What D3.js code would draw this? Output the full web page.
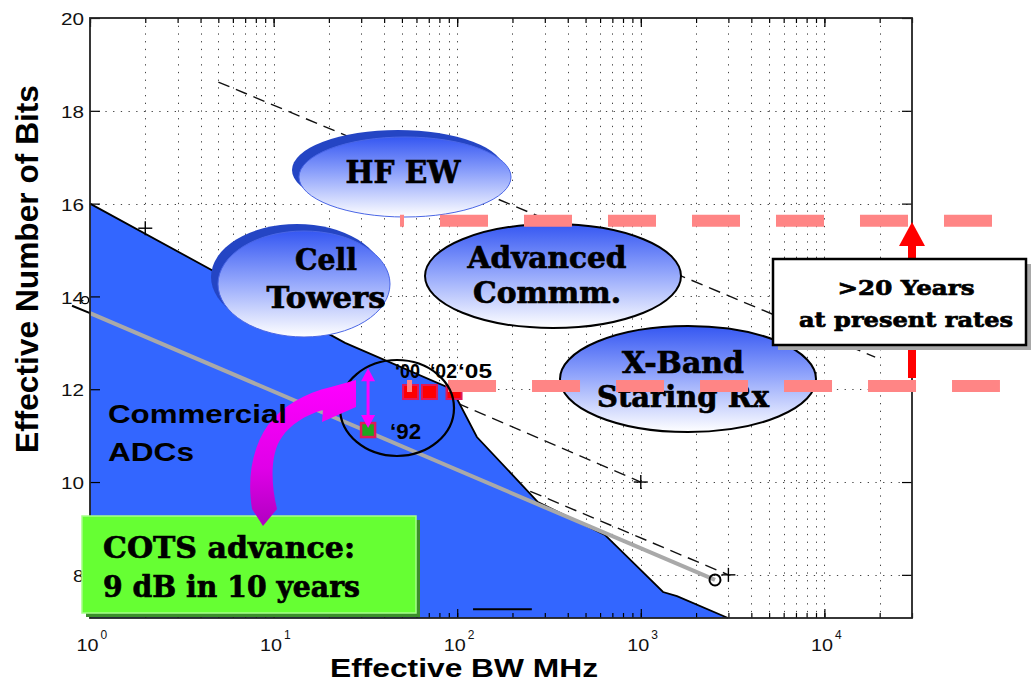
<!DOCTYPE html>
<html><head><meta charset="utf-8">
<script src="https://cdn.jsdelivr.net/npm/d3@7"></script>
<style>body{margin:0;background:#fff;} svg{display:block}</style>
</head><body>
<svg id="c" width="1031" height="682"></svg>
<script>
// ---------------- data ----------------
const xTickValues = [1, 10, 100, 1000, 10000];
const xTickExponents = ["0", "1", "2", "3", "4"];
const yTickValues = [8, 10, 12, 14, 16, 18, 20];
const yGridValues = [8, 10, 12, 14, 16, 18];

// commercial ADC frontier (filled region)
const frontierBW   = [1, 24.5, 93.7, 128, 275, 638, 1322, 1574, 2985];
const frontierENOB = [16, 13.0, 12.0, 10.97, 9.57, 8.86, 7.63, 7.54, 7.07];

// trend line (gray) and its end marker
const trendBW   = [1, 2536];
const trendENOB = [13.64, 7.89];
const stubBW    = [0.798, 1];
const stubENOB  = [13.80, 13.64];
const stubMarkBW = [0.94];
const stubMarkENOB = [13.92];

// dashed guide lines
const guideUpperBW = [5, 18900],  guideUpperENOB = [18.62, 12.69];
const guideMidBW   = [100, 1000], guideMidENOB   = [11.7, 10];
const guideLowBW   = [250, 3000], guideLowENOB   = [9.8, 8];
const plusBW   = [2, 1000, 3000];
const plusENOB = [15.47, 10, 8];

// year points
const yearBW    = [55.7, 70.6, 96.1];
const yearENOB  = [11.94, 11.94, 11.94];
const yearLabels = ["\u201800", "\u201802", "\u201805"];
const p92BW = [32.7], p92ENOB = [11.12], p92Label = ["\u201892"];

// target lines (red dashed)
const targetENOB = [15.63, 12.07];
const targetStartBW = [48.8, 53.3];
const targetEndBW = [81800, 90400];

// small legend-like segment near bottom
const segBW = [122, 255], segENOB = [7.26, 7.26];

// ---------------- setup ----------------
const svg = d3.select("#c");
const x = d3.scaleLog().domain([1, 30000]).range([90, 912]);
const y = d3.scaleLinear().domain([7.07, 20]).range([618, 18]);
const X0 = x.range()[0], X1 = x.range()[1], Y0 = y.range()[0], Y1 = y.range()[1];
const sans = "Liberation Sans, Arial, sans-serif";
const serif = "DejaVu Serif, Liberation Serif, serif";

const defs = svg.append("defs");
function grad(id, stops) {
  const g = defs.append("linearGradient").attr("id", id).attr("x1", 0).attr("y1", 0).attr("x2", 0).attr("y2", 1);
  stops.forEach(s => g.append("stop").attr("offset", s[0]).attr("stop-color", s[1]));
}
grad("bubble", [[0, "#3557f2"], [0.45, "#8ea2fb"], [1, "#ffffff"]]);
grad("magenta", [[0, "#ff00ff"], [0.6, "#e000e8"], [1, "#b000c0"]]);

const minorX = [];
for (let k = 0; k <= 4; k++) for (let m = 1; m <= 9; m++) { const v = m * Math.pow(10, k); if (v <= 30000) minorX.push(v); }

// ---------------- grid ----------------
const grid = svg.append("g").attr("stroke", "#444").attr("stroke-width", 1).attr("stroke-dasharray", "1.3 6.4");
grid.selectAll("line.v").data(minorX.filter(v => v > 1 && v < 30000)).enter().append("line")
  .attr("x1", d => Math.round(x(d)) + 0.5).attr("x2", d => Math.round(x(d)) + 0.5).attr("y1", Y1).attr("y2", Y0);
grid.selectAll("line.h").data(yGridValues).enter().append("line")
  .attr("y1", d => Math.round(y(d)) + 0.5).attr("y2", d => Math.round(y(d)) + 0.5).attr("x1", X0).attr("x2", X1);

// ---------------- dashed guides ----------------
const line2 = (bw, en) => d3.line().x(d => x(d[0])).y(d => y(d[1]))(bw.map((b, i) => [b, en[i]]));
const guides = svg.append("g").attr("fill", "none").attr("stroke", "#111").attr("stroke-width", 1.4).attr("stroke-dasharray", "12 7");
[[guideUpperBW, guideUpperENOB], [guideMidBW, guideMidENOB], [guideLowBW, guideLowENOB]].forEach(g =>
  guides.append("path").attr("d", line2(g[0], g[1])));

// ---------------- frontier polygon ----------------
const polyPts = frontierBW.map((b, i) => [b, frontierENOB[i]]);
polyPts.push([frontierBW[0], frontierENOB[frontierENOB.length - 1]]);
svg.append("path").attr("d", d3.line().x(d => x(d[0])).y(d => y(d[1]))(polyPts) + "Z")
  .attr("fill", "#3366ff").attr("stroke", "none");
svg.append("path").attr("d", line2(frontierBW, frontierENOB)).attr("fill", "none").attr("stroke", "#000").attr("stroke-width", 1.8);

// ---------------- trend line ----------------
svg.append("path").attr("d", line2(trendBW, trendENOB)).attr("stroke", "#a9a9a9").attr("stroke-width", 4).attr("fill", "none");
svg.append("path").attr("d", line2(stubBW, stubENOB)).attr("stroke", "#000").attr("stroke-width", 2).attr("fill", "none");
svg.selectAll("circle.tm").data(trendBW.slice(1)).enter().append("circle")
  .attr("cx", d => x(d)).attr("cy", (d, i) => y(trendENOB[i + 1])).attr("r", 5.5)
  .attr("fill", "none").attr("stroke", "#000").attr("stroke-width", 2);
svg.selectAll("circle.sm").data(stubMarkBW).enter().append("circle")
  .attr("cx", d => x(d)).attr("cy", (d, i) => y(stubMarkENOB[i])).attr("r", 3.5)
  .attr("fill", "none").attr("stroke", "#000").attr("stroke-width", 1.2);

// plus markers
const plus = svg.append("g").attr("stroke", "#000").attr("stroke-width", 1.4);
plusBW.forEach((b, i) => {
  const cx = x(b), cy = y(plusENOB[i]);
  plus.append("line").attr("x1", cx - 7).attr("x2", cx + 7).attr("y1", cy).attr("y2", cy);
  plus.append("line").attr("x1", cx).attr("x2", cx).attr("y1", cy - 7).attr("y2", cy + 7);
});

// small segment
svg.append("path").attr("d", line2(segBW, segENOB)).attr("stroke", "#000").attr("stroke-width", 2);

// ---------------- axes ----------------
const axG = svg.append("g").attr("class", "axes");
function styleAxis(g) { g.select(".domain").remove(); g.selectAll("line").attr("stroke", "#000").attr("stroke-width", 1.2); }
axG.append("g").attr("transform", `translate(0,${Y0})`).call(d3.axisBottom(x).tickValues(minorX).tickSize(-5).tickFormat("")).call(styleAxis);
axG.append("g").attr("transform", `translate(0,${Y1})`).call(d3.axisTop(x).tickValues(minorX).tickSize(-5).tickFormat("")).call(styleAxis);
axG.append("g").attr("transform", `translate(0,${Y1})`).call(d3.axisTop(x).tickValues(xTickValues).tickSize(-9).tickFormat("")).call(styleAxis);
const xb = axG.append("g").attr("transform", `translate(0,${Y0})`)
  .call(d3.axisBottom(x).tickValues(xTickValues).tickSize(-9).tickFormat("")).call(styleAxis);
// tick labels "10" with superscript exponent, as two adjacent texts
xb.selectAll("g.tick").each(function (d, i) {
  const g = d3.select(this);
  g.append("text").attr("x", 8).attr("y", 33).attr("text-anchor", "end")
    .attr("font-family", sans).attr("font-size", 16).attr("fill", "#111")
    .attr("textLength", 22).attr("lengthAdjust", "spacingAndGlyphs").text("10");
  g.append("text").attr("x", 10).attr("y", 21).attr("text-anchor", "start")
    .attr("font-family", sans).attr("font-size", 12).attr("fill", "#111").text(xTickExponents[i]);
});
const yl = axG.append("g").attr("transform", `translate(${X0},0)`)
  .call(d3.axisLeft(y).tickValues(yTickValues).tickSize(-10).tickPadding(6).tickFormat(d3.format("d"))).call(styleAxis);
yl.selectAll("text").attr("font-family", sans).attr("font-size", 16).attr("fill", "#111")
  .attr("textLength", d => d >= 10 ? 23 : 11).attr("lengthAdjust", "spacingAndGlyphs").attr("dy", "0.42em");
axG.append("g").attr("transform", `translate(${X1},0)`)
  .call(d3.axisRight(y).tickValues(yTickValues).tickSize(-10).tickFormat("")).call(styleAxis);
axG.append("rect").attr("x", X0).attr("y", Y1).attr("width", X1 - X0).attr("height", Y0 - Y1)
  .attr("fill", "none").attr("stroke", "#222").attr("stroke-width", 1.8);

// axis titles
svg.append("text").attr("transform", `translate(38,${(85 + 453) / 2}) rotate(-90)`).attr("text-anchor", "middle")
  .attr("font-family", sans).attr("font-weight", "bold").attr("font-size", 31)
  .attr("textLength", 368).attr("lengthAdjust", "spacingAndGlyphs").text("Effective Number of Bits");
svg.append("text").attr("x", 464).attr("y", 677).attr("text-anchor", "middle")
  .attr("font-family", sans).attr("font-weight", "bold").attr("font-size", 26)
  .attr("textLength", 268).attr("lengthAdjust", "spacingAndGlyphs").text("Effective BW MHz");

// ---------------- annotations ----------------
function txt(g, s, cx, base, size, len, family, anchor) {
  const t = g.append("text").attr("x", cx).attr("y", base).attr("text-anchor", anchor || "middle")
    .attr("font-family", family || serif).attr("font-weight", "bold").attr("font-size", size)
    .attr("textLength", len).attr("lengthAdjust", "spacingAndGlyphs").attr("fill", "#000").text(s);
  if (!family || family === serif) t.attr("stroke", "#000").attr("stroke-width", 0.7);
  return t;
}
const ann = svg.append("g");

// HF EW bubble (with dark rim)
ann.append("ellipse").attr("cx", 398).attr("cy", 170).attr("rx", 106).attr("ry", 40).attr("fill", "#2445c4");
ann.append("ellipse").attr("cx", 405).attr("cy", 177).attr("rx", 106).attr("ry", 40).attr("fill", "url(#bubble)").attr("stroke", "#4a66e6").attr("stroke-width", 1);
txt(ann, "HF EW", 403, 183, 31, 115);

// Cell Towers bubble
ann.append("ellipse").attr("cx", 297).attr("cy", 277).attr("rx", 86).attr("ry", 53).attr("fill", "#2445c4");
ann.append("ellipse").attr("cx", 304).attr("cy", 284).attr("rx", 86).attr("ry", 53).attr("fill", "url(#bubble)").attr("stroke", "#4a66e6").attr("stroke-width", 1);
txt(ann, "Cell", 326, 270, 30, 62);
txt(ann, "Towers", 326, 308, 30, 119);

// Advanced Commm.
ann.append("ellipse").attr("cx", 553).attr("cy", 276).attr("rx", 128).attr("ry", 52).attr("fill", "url(#bubble)").attr("stroke", "#000").attr("stroke-width", 2);
txt(ann, "Advanced", 547, 268, 29, 159);
txt(ann, "Commm.", 547, 303, 29, 148);

// X-Band Staring Rx
ann.append("ellipse").attr("cx", 688).attr("cy", 379).attr("rx", 128).attr("ry", 53).attr("fill", "url(#bubble)").attr("stroke", "#000").attr("stroke-width", 2);
txt(ann, "X-Band", 683, 373, 29, 122);
txt(ann, "Staring Rx", 683, 407, 29, 172);

// year squares
ann.selectAll("rect.yr").data(yearBW).enter().append("rect")
  .attr("x", d => x(d) - 7.5).attr("y", (d, i) => y(yearENOB[i]) - 7).attr("width", 15).attr("height", 14)
  .attr("fill", "#ff0000").attr("stroke", "#e0185a").attr("stroke-width", 2);
ann.selectAll("rect.p92").data(p92BW).enter().append("rect")
  .attr("x", d => x(d) - 7).attr("y", (d, i) => y(p92ENOB[i]) - 7).attr("width", 14).attr("height", 14)
  .attr("fill", "#1fa51f").attr("stroke", "#e0185a").attr("stroke-width", 2.5);

// red dashed target lines
const tgt = ann.append("g").attr("stroke", "#ff8585").attr("stroke-width", 12).attr("stroke-dasharray", "48 36").attr("fill", "none");
targetENOB.forEach((e, i) => tgt.append("line")
  .attr("x1", x(targetStartBW[i])).attr("x2", x(targetEndBW[i])).attr("y1", y(e)).attr("y2", y(e))
  .attr("stroke-dashoffset", i === 0 ? 44 : 43));

// year labels (left edges relative to the squares)
const yearLabelDx = [-15.5, 0.5, 4], yearLabelLen = [25, 27, 34];
ann.selectAll("text.yl").data(yearLabels).enter().append("text")
  .attr("x", (d, i) => x(yearBW[i]) + yearLabelDx[i]).attr("y", (d, i) => y(yearENOB[i]) - 14)
  .attr("font-family", sans).attr("font-weight", "bold").attr("font-size", 20)
  .attr("textLength", (d, i) => yearLabelLen[i]).attr("lengthAdjust", "spacingAndGlyphs").text(d => d);
ann.selectAll("text.l92").data(p92Label).enter().append("text")
  .attr("x", (d, i) => x(p92BW[i]) + 22).attr("y", (d, i) => y(p92ENOB[i]) + 9)
  .attr("font-family", sans).attr("font-weight", "bold").attr("font-size", 22)
  .attr("textLength", 31).attr("lengthAdjust", "spacingAndGlyphs").text(d => d);

// circle around points
ann.append("ellipse").attr("cx", 397).attr("cy", 408).attr("rx", 57).attr("ry", 48)
  .attr("fill", "none").attr("stroke", "#000").attr("stroke-width", 2.2);

// magenta double arrow
const ax92 = x(p92BW[0]), yTop = y(12.45), yBot = y(p92ENOB[0]) - 2;
ann.append("line").attr("x1", ax92).attr("x2", ax92).attr("y1", yTop + 8).attr("y2", yBot - 8).attr("stroke", "#ff00ff").attr("stroke-width", 3);
ann.append("path").attr("d", `M${ax92},${yTop} L${ax92 - 7},${yTop + 13} L${ax92 + 7},${yTop + 13} Z`).attr("fill", "#ff00ff");
ann.append("path").attr("d", `M${ax92},${yBot} L${ax92 - 7},${yBot - 13} L${ax92 + 7},${yBot - 13} Z`).attr("fill", "#ff00ff");

// red vertical arrow
ann.append("rect").attr("x", 908).attr("y", 244).attr("width", 8).attr("height", 134).attr("fill", "#ff0000");
ann.append("path").attr("d", "M899,246 L925,246 L912,222 Z").attr("fill", "#ff0000");

// >20 Years box
ann.append("rect").attr("x", 778).attr("y", 264).attr("width", 253).attr("height", 86).attr("fill", "#a8a8a8");
ann.append("rect").attr("x", 773).attr("y", 259).attr("width", 253).attr("height", 86).attr("fill", "#fff").attr("stroke", "#000").attr("stroke-width", 2.5);
txt(ann, ">20 Years", 906, 295, 21, 137);
txt(ann, "at present rates", 906, 327, 21, 214);

// COTS box
ann.append("rect").attr("x", 86).attr("y", 520).attr("width", 334).attr("height", 97).attr("fill", "#3b8f2a");
ann.append("rect").attr("x", 82).attr("y", 516).attr("width", 334).attr("height", 97).attr("fill", "#66ff33").attr("stroke", "#a6ff8a").attr("stroke-width", 1.5);
txt(ann, "COTS advance:", 103, 558, 30, 252, serif, "start");
txt(ann, "9 dB in 10 years", 103, 597, 30, 257, serif, "start");

// magenta curved arrow (drawn over the green box)
ann.append("path").attr("d",
  "M263,526 L277,509 C270,480 271,452 282,437 C290,425 305,415 323,410 L322,422 L356,407 L356,380 L331,387 " +
  "C305,393 282,406 268,425 C252,448 247,478 252,509 Z")
  .attr("fill", "url(#magenta)");

// Commercial ADCs
txt(ann, "Commercial", 108, 423, 25, 179, sans, "start");
txt(ann, "ADCs", 108, 461, 25, 86, sans, "start");
</script>
</body></html>
